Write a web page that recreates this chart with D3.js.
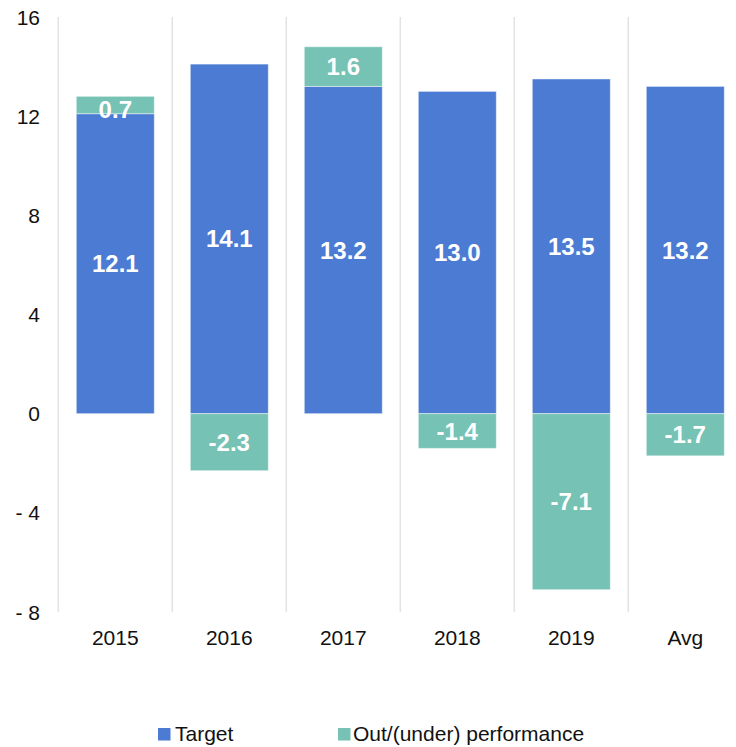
<!DOCTYPE html>
<html>
<head>
<meta charset="utf-8">
<script src="https://cdn.jsdelivr.net/npm/d3@7/dist/d3.min.js"></script>
<style>
  html, body { margin: 0; padding: 0; background: #fff; }
  svg { display: block; font-family: "Liberation Sans", Arial, sans-serif; }
</style>
</head>
<body>
<svg id="chart" width="736" height="747"></svg>
<script>
const categories = ["2015", "2016", "2017", "2018", "2019", "Avg"];
const target = [12.1, 14.1, 13.2, 13.0, 13.5, 13.2];
const outUnder = [0.7, -2.3, 1.6, -1.4, -7.1, -1.7];
const yTicks = [-8, -4, 0, 4, 8, 12, 16];
const seriesNames = ["Target", "Out/(under) performance"];
const colors = ["#4B7BD3", "#76C2B4"];

const svg = d3.select("#chart");
const left = 58.3, step = 114;
const x = d3.scaleBand().domain(categories).range([left, left + step * categories.length]).padding(0);
const y = d3.scaleLinear().domain([-8, 16]).range([612, 17]);
const barW = x.bandwidth() * 0.684;

// vertical gridlines
const gridX = categories.map(c => x(c)).concat([x.range()[1]]);
svg.append("g").selectAll("line").data(gridX).join("line")
  .attr("x1", d => d).attr("x2", d => d)
  .attr("y1", y(16)).attr("y2", y(-8))
  .attr("stroke", "#e3e3e3").attr("stroke-width", 1.5);

// y axis labels
svg.append("g").selectAll("text").data(yTicks).join("text")
  .attr("x", 40).attr("y", d => y(d))
  .attr("text-anchor", "end").attr("dominant-baseline", "central")
  .attr("font-size", 21).attr("fill", "#111")
  .text(d => d < 0 ? "- " + Math.abs(d) : d);

// build segments
const segs = [];
categories.forEach((c, i) => {
  const t = target[i], o = outUnder[i];
  segs.push({c, s: 0, y0: 0, y1: t, v: t});
  if (o >= 0) segs.push({c, s: 1, y0: t, y1: t + o, v: o});
  else segs.push({c, s: 1, y0: o, y1: 0, v: o});
});

svg.append("g").selectAll("rect").data(segs).join("rect")
  .attr("x", d => x(d.c) + (x.bandwidth() - barW) / 2)
  .attr("width", barW)
  .attr("y", d => y(d.y1))
  .attr("height", d => y(d.y0) - y(d.y1))
  .attr("fill", d => colors[d.s])
  .attr("stroke", "rgba(255,255,255,0.45)").attr("stroke-width", 1);

svg.append("g").selectAll("text").data(segs).join("text")
  .attr("x", d => x(d.c) + x.bandwidth() / 2)
  .attr("y", d => (y(d.y0) + y(d.y1)) / 2 + (d.s === 1 && d.v > 0 && d.v < 1 ? 4 : 0))
  .attr("text-anchor", "middle").attr("dominant-baseline", "central")
  .attr("font-size", 24).attr("font-weight", "bold").attr("fill", "#fff")
  .text(d => d.v.toFixed(1));

// x axis labels
svg.append("g").selectAll("text").data(categories).join("text")
  .attr("x", d => x(d) + x.bandwidth() / 2).attr("y", 645)
  .attr("text-anchor", "middle")
  .attr("font-size", 21).attr("fill", "#111")
  .text(d => d);

// legend
const legX = [158, 338], legTX = [175, 353];
const lg = svg.append("g");
seriesNames.forEach((n, i) => {
  lg.append("rect").attr("x", legX[i]).attr("y", 728).attr("width", 12.5).attr("height", 12.5).attr("fill", colors[i]);
  lg.append("text").attr("x", legTX[i]).attr("y", 741).attr("font-size", 21).attr("fill", "#111").text(n);
});
</script>
</body>
</html>
